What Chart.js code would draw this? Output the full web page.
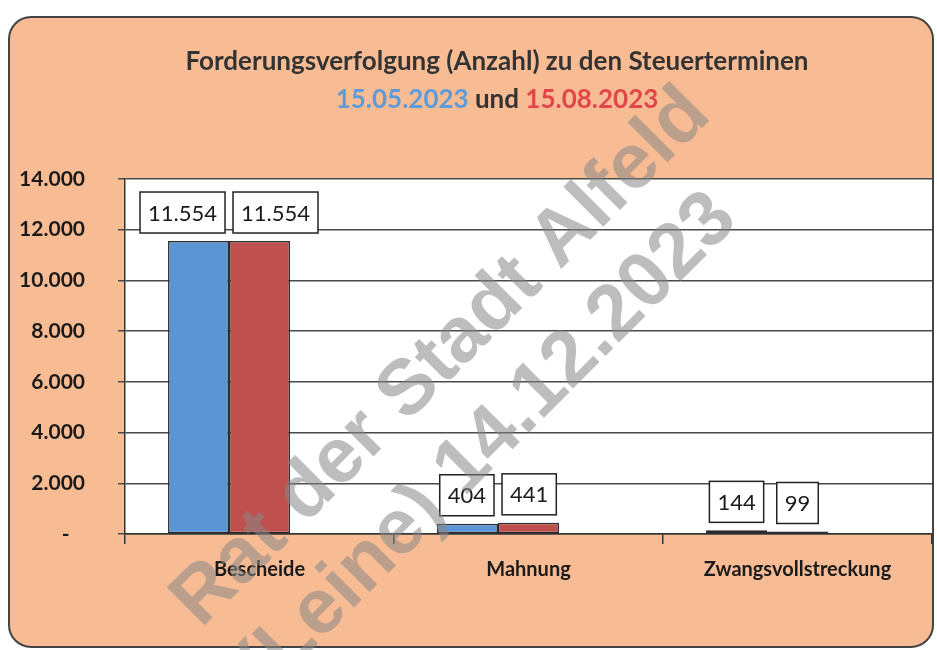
<!DOCTYPE html>
<html lang="de">
  <head>
    <meta charset="UTF-8" />
    <title>Forderungsverfolgung</title>
    <script src="https://cdn.jsdelivr.net/npm/chart.js@4.4.1/dist/chart.umd.min.js"></script>
    <style>
      html, body { margin: 0; padding: 0; background: #fff; }
      .chart-view { width: 937px; height: 650px; }
    </style>
  </head>
  <body>
    <div class="chart-view">
      <canvas id="chart"></canvas>
    </div>

    <script>
      //data
      const categories = ['Bescheide', 'Mahnung', 'Zwangsvollstreckung'];
      const seriesMay = [11554, 404, 144];
      const seriesAug = [11554, 441, 99];
      const emptySeries = [null, null, null]; // leere dritte Reihe wie im Original
      const seriesLabels = ['15.05.2023', '15.08.2023'];
      const titleLine1 = 'Forderungsverfolgung (Anzahl) zu den Steuerterminen';
      const watermark = ['Rat der Stadt Alfeld', '(Leine) 14.12.2023'];

      const fmt = (v) => v.toLocaleString('de-DE');

      //plugins
      const frame = {
        id: 'frame',
        beforeDraw(chart) {
          const ctx = chart.ctx;
          const a = chart.chartArea;
          ctx.save();
          ctx.fillStyle = '#ffffff';
          ctx.fillRect(0, 0, chart.width, chart.height);
          ctx.beginPath();
          ctx.roundRect(9, 17, 924, 630, 22);
          ctx.fillStyle = '#f8bc94';
          ctx.fill();
          ctx.lineWidth = 2;
          ctx.strokeStyle = '#444';
          ctx.stroke();
          ctx.fillStyle = '#ffffff';
          ctx.fillRect(a.left, a.top, a.right - a.left, a.bottom - a.top);
          ctx.restore();
        }
      };

      const valueBoxes = {
        id: 'valueBoxes',
        afterDatasetsDraw(chart) {
          const ctx = chart.ctx;
          const m0 = chart.getDatasetMeta(0).data;
          const m1 = chart.getDatasetMeta(1).data;
          const vals = [seriesMay, seriesAug];
          ctx.save();
          ctx.font = '22px Lato';
          categories.forEach((c, i) => {
            const boxes = [m0[i], m1[i]].map((bar, k) => {
              const text = fmt(vals[k][i]);
              const w = ctx.measureText(text).width + 16;
              return { text, w, cx: bar.x, y: bar.y };
            });
            const overlap = (boxes[0].cx + boxes[0].w / 2 + 8) - (boxes[1].cx - boxes[1].w / 2);
            if (overlap > 0) {
              boxes[0].cx -= overlap / 2;
              boxes[1].cx += overlap / 2;
            }
            boxes.forEach((b) => {
              const h = 41;
              const top = b.y - 8 - h;
              ctx.fillStyle = '#ffffff';
              ctx.fillRect(b.cx - b.w / 2, top, b.w, h);
              ctx.lineWidth = 1.5;
              ctx.strokeStyle = '#222';
              ctx.strokeRect(b.cx - b.w / 2, top, b.w, h);
              ctx.fillStyle = '#1a1a1a';
              ctx.textAlign = 'center';
              ctx.textBaseline = 'middle';
              ctx.fillText(b.text, b.cx, top + h / 2 + 1);
            });
          });
          ctx.restore();
        }
      };

      const titleAndStamp = {
        id: 'titleAndStamp',
        afterDraw(chart) {
          const ctx = chart.ctx;
          const cx = 497;
          ctx.save();
          ctx.font = 'bold 26px Lato';
          ctx.textBaseline = 'middle';
          ctx.textAlign = 'center';
          ctx.fillStyle = '#333';
          ctx.fillText(titleLine1, cx, 62);

          // zweite Zeile mehrfarbig
          const parts = [
            { t: seriesLabels[0], c: '#5f9bd8' },
            { t: ' und ', c: '#333' },
            { t: seriesLabels[1], c: '#e2454a' }
          ];
          const total = parts.reduce((s, p) => s + ctx.measureText(p.t).width, 0);
          let x = cx - total / 2;
          ctx.textAlign = 'left';
          parts.forEach((p) => {
            ctx.fillStyle = p.c;
            ctx.fillText(p.t, x, 100);
            x += ctx.measureText(p.t).width;
          });

          // Stempel
          ctx.font = 'bold 78px "Liberation Sans"';
          ctx.fillStyle = 'rgba(134,134,134,0.55)';
          ctx.textAlign = 'center';
          ctx.textBaseline = 'alphabetic';
          ctx.translate(457, 373);
          ctx.rotate(-45 * Math.PI / 180);
          ctx.fillText(watermark[0], 0, 0);
          ctx.fillText(watermark[1], -27, 93);
          ctx.restore();
        }
      };

      //config
      const config = {
        type: 'bar',
        data: {
          labels: categories,
          datasets: [
            {
              label: seriesLabels[0],
              data: seriesMay,
              backgroundColor: '#5b95d3',
              borderColor: '#2b2b2b',
              borderWidth: 1.5,
              borderSkipped: false
            },
            {
              label: seriesLabels[1],
              data: seriesAug,
              backgroundColor: '#c0504d',
              borderColor: '#2b2b2b',
              borderWidth: 1.5,
              borderSkipped: false
            },
            {
              label: '',
              data: emptySeries
            }
          ]
        },
        options: {
          responsive: true,
          maintainAspectRatio: false,
          animation: false,
          categoryPercentage: 0.68,
          barPercentage: 1,
          layout: { padding: { top: 179, right: 5, left: 0, bottom: 0 } },
          plugins: {
            legend: { display: false },
            title: { display: false },
            tooltip: { enabled: false }
          },
          scales: {
            x: {
              offset: true,
              afterFit: (scale) => { scale.height = 116; },
              grid: { offset: true, drawOnChartArea: false, drawTicks: true, tickLength: 10, color: '#333', lineWidth: 1.5 },
              border: { color: '#333', width: 1.5 },
              ticks: {
                maxRotation: 0,
                padding: 14,
                color: '#1a1a1a',
                font: { family: 'Lato', size: 20, weight: 'bold' }
              }
            },
            y: {
              min: 0,
              max: 14000,
              afterFit: (scale) => { scale.width = 125; },
              grid: { color: '#4a4a4a', lineWidth: 1.5, tickLength: 7 },
              border: { color: '#333', width: 1.5 },
              ticks: {
                stepSize: 2000,
                padding: 33,
                color: '#1a1a1a',
                font: { family: 'Lato', size: 21, weight: 'bold' },
                callback: (v) => (v === 0 ? '-   ' : fmt(v))
              }
            }
          }
        },
        plugins: [frame, valueBoxes, titleAndStamp]
      };

      //init
      const ctx = document.getElementById('chart');
      const chart = new Chart(ctx, config);
    </script>
  </body>
</html>
